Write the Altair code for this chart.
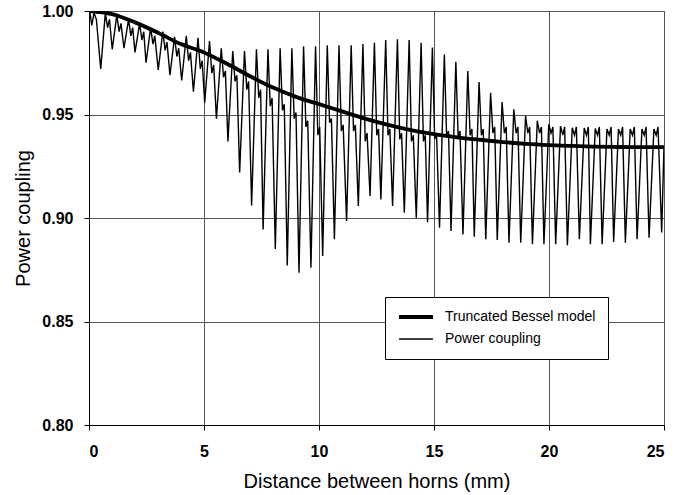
import altair as alt
import pandas as pd

# ---- Truncated Bessel model ----
bessel_x = [0, 1, 2, 3, 4, 5, 6, 7, 8, 9, 10, 11, 12, 13, 14, 15, 16, 17, 18, 19, 20, 21, 22, 23, 24, 25]
bessel_y = [1.000, 0.9985, 0.9945, 0.9895, 0.984, 0.980, 0.9745, 0.9685, 0.963, 0.9585, 0.955,
            0.9515, 0.948, 0.945, 0.9425, 0.9405, 0.939, 0.9378, 0.9367, 0.9358, 0.9352,
            0.9348, 0.9345, 0.9343, 0.9342, 0.9342]

start_x = [0.0, 0.06, 0.12, 0.22, 0.32]
start_y = [1.0, 0.998, 0.993, 0.999, 0.996]

dip_x = [0.51, 1.01, 1.52, 2.00, 2.48, 3.01, 3.52, 4.03, 4.54, 5.03, 5.54, 6.04, 6.55, 7.07, 7.57,
         8.10, 8.62, 9.13, 9.65, 10.16, 10.67, 11.20, 11.71, 12.22, 12.69, 13.20, 13.71, 14.23,
         14.72, 15.24, 15.74, 16.26, 16.75, 17.25, 17.75, 18.26, 18.77, 19.28, 19.78, 20.29,
         20.80, 21.32, 21.80, 22.31, 22.81, 23.32, 23.83, 24.35, 24.90]
dip_y = [0.972, 0.9815, 0.982, 0.980, 0.975, 0.9715, 0.969, 0.9665, 0.961, 0.9557, 0.948, 0.937,
         0.922, 0.906, 0.8945, 0.885, 0.877, 0.8736, 0.876, 0.8816, 0.8897, 0.8985, 0.9058,
         0.9106, 0.909, 0.9058, 0.9026, 0.900, 0.898, 0.8953, 0.8937, 0.892, 0.891, 0.8897,
         0.8894, 0.888, 0.888, 0.8873, 0.8873, 0.8873, 0.8868, 0.8897, 0.8873, 0.8873, 0.8884,
         0.888, 0.8897, 0.8905, 0.893]

peak_x = [0.71, 1.21, 1.72, 2.20, 2.68, 3.21, 3.72, 4.23, 4.74, 5.24, 5.75, 6.25, 6.76, 7.28,
          7.78, 8.31, 8.82, 9.33, 9.85, 10.36, 10.87, 11.40, 11.91, 12.41, 12.90, 13.41, 13.92,
          14.44, 14.93, 15.45, 15.95, 16.47, 16.96, 17.46, 17.96, 18.47, 18.98, 19.49, 19.99,
          20.50, 21.01, 21.53, 22.01, 22.52, 23.02, 23.53, 24.04, 24.56]
peak_y = [0.999, 0.998, 0.996, 0.994, 0.992, 0.990, 0.9875, 0.988, 0.987, 0.9855, 0.982, 0.9807,
          0.9807, 0.9815, 0.9815, 0.982, 0.982, 0.983, 0.983, 0.9834, 0.9834, 0.9834, 0.984,
          0.9847, 0.986, 0.9863, 0.986, 0.9847, 0.9823, 0.979, 0.9755, 0.971, 0.9657, 0.9605,
          0.956, 0.9525, 0.9493, 0.947, 0.9453, 0.9444, 0.9436, 0.9435, 0.9432, 0.943, 0.943,
          0.943, 0.943, 0.943]
notch_y = [0.992, 0.990, 0.988, 0.986, 0.984, 0.981, 0.978, 0.976, 0.972, 0.970, 0.968, 0.966,
           0.962, 0.958, 0.954, 0.952, 0.948, 0.944, 0.940, 0.946, 0.942, 0.942, 0.937, 0.940,
           0.940, 0.938, 0.937, 0.937, 0.938, 0.939, 0.939, 0.940, 0.940, 0.941, 0.941, 0.941,
           0.941, 0.941, 0.941, 0.940, 0.940, 0.940, 0.940, 0.940, 0.940, 0.940, 0.940, 0.940]
bump_y = [0.996, 0.994, 0.992, 0.990, 0.988, 0.985, 0.982, 0.980, 0.976, 0.974, 0.971, 0.969,
          0.966, 0.962, 0.958, 0.955, 0.951, 0.947, 0.944, 0.948, 0.945, 0.945, 0.941, 0.943,
          0.943, 0.941, 0.940, 0.940, 0.941, 0.942, 0.942, 0.943, 0.943, 0.944, 0.944, 0.944,
          0.944, 0.944, 0.944, 0.944, 0.944, 0.944, 0.944, 0.944, 0.944, 0.944, 0.944, 0.944]
end_x, end_y = 25.0, 0.935

series_names = ["Truncated Bessel model", "Power coupling"]

# ---- build tables ----
sx, sy = list(start_x), list(start_y)
for i in range(len(dip_x)):
    sx.append(dip_x[i]); sy.append(dip_y[i])
    if i < len(peak_x):
        sx += [peak_x[i], peak_x[i] + 0.10, peak_x[i] + 0.18]
        sy += [peak_y[i], notch_y[i], bump_y[i]]
sx.append(end_x); sy.append(end_y)

df_sig = pd.DataFrame({"x": sx, "y": sy, "series": series_names[1], "idx": range(len(sx))})
df_bes = pd.DataFrame({"x": bessel_x, "y": bessel_y, "series": series_names[0], "idx": range(len(bessel_x))})

color = alt.Color("series:N", scale=alt.Scale(domain=series_names, range=["black", "black"]),
                  legend=alt.Legend(title=None))
width_enc = alt.StrokeWidth("series:N", scale=alt.Scale(domain=series_names, range=[3.8, 1.4]),
                            legend=alt.Legend(title=None))

xenc = alt.X("x:Q", scale=alt.Scale(domain=[0, 25], nice=False),
             axis=alt.Axis(title="Distance between horns (mm)", values=[0, 5, 10, 15, 20, 25],
                           format="d", titlePadding=12, labelPadding=13))
yenc = alt.Y("y:Q", scale=alt.Scale(domain=[0.80, 1.00], nice=False, zero=False),
             axis=alt.Axis(title="Power coupling", values=[0.80, 0.85, 0.90, 0.95, 1.00],
                           format=".2f", titlePadding=8, labelPadding=11))

sig = alt.Chart(df_sig).mark_line(clip=True).encode(
    x=xenc, y=yenc, color=color, strokeWidth=width_enc, order="idx:Q")
bes = alt.Chart(df_bes).mark_line(interpolate="monotone", clip=True).encode(
    x=xenc, y=yenc, color=color, strokeWidth=width_enc, order="idx:Q")

chart = alt.layer(sig, bes).properties(
    width=575, height=414,
    autosize=alt.AutoSizeParams(type="none"),
    padding={"left": 89, "top": 11, "right": 24, "bottom": 70},
    background="white",
).configure_view(
    stroke="black", strokeWidth=1
).configure_axis(
    grid=True, gridColor="#555555", gridWidth=1, gridOpacity=1,
    domainColor="black", domainWidth=1, tickColor="black", tickSize=5, tickWidth=1,
    labelFont="Liberation Sans", labelFontSize=16, labelFontWeight="bold", labelColor="black",
    titleFont="Liberation Sans", titleFontSize=20, titleFontWeight="normal", titleColor="black",
).configure_legend(
    orient="none", legendX=296, legendY=286,
    symbolType="stroke", symbolSize=1150, labelFont="Liberation Sans", labelFontSize=14,
    labelColor="black", labelOffset=10, rowPadding=6, clipHeight=16,
    padding=12, strokeColor="black", fillColor="white", cornerRadius=0,
    labelLimit=300,
)

chart.save("out.html", embed_options={"renderer": "svg", "actions": False})
